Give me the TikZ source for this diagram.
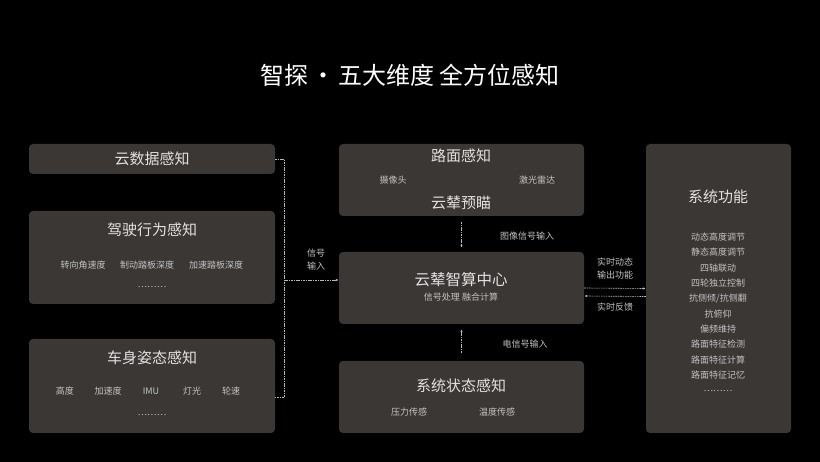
\documentclass[tikz,border=0pt]{standalone}
\usepackage{fontspec}
\setmainfont{Noto Sans CJK SC}
\usepackage{tikz}
\usetikzlibrary{arrows,arrows.meta,positioning,calc}
\definecolor{panel}{HTML}{3A3734}
\definecolor{ink}{HTML}{E2E2E2}
\definecolor{soft}{HTML}{C4C4C4}
\definecolor{wire}{HTML}{B8B8B8}

\begin{document}
\begin{tikzpicture}[x=1pt,y=-1pt,inner sep=0pt]
\tikzstyle{panelbox} = [fill=panel,rounded corners=4pt,draw=none]
\tikzstyle{head} = [text=ink,font=\fontsize{15}{17}\selectfont]
\tikzstyle{item} = [text=soft,font=\fontsize{9}{11}\selectfont]
\tikzstyle{note} = [text=soft,font=\fontsize{9}{13}\selectfont,align=center]
\tikzstyle{sig} = [draw=wire,line width=0.6pt,dash pattern=on 1.6pt off 0.8pt,>={Latex[length=3pt,width=2.4pt]}]

\fill[black] (0,0) rectangle (820,462);

\node[text=white,font=\fontsize{24}{27}\selectfont] (title) at (410,75) {智探\hspace{3pt}·\hspace{3pt}五大维度 全方位感知};

% left column
\node[panelbox,minimum width=246pt,minimum height=30pt] (cloud) at (152,159) {};
\node[panelbox,minimum width=246pt,minimum height=93pt] (drive) at (152,257.5) {};
\node[panelbox,minimum width=246pt,minimum height=94pt] (body) at (152,386) {};

\node[head] (cloudT) at (cloud) {云数据感知};
\node[head] (driveT) at (152,230) {驾驶行为感知};
\node[item] (d1) at (83,265) {转向角速度};
\node[item] (d2) at (147,265) {制动踏板深度};
\node[item] (d3) at (216,265) {加速踏板深度};
\node[item] (d4) at (152,287) {………};
\node[head] (bodyT) at (152,358) {车身姿态感知};
\node[item] (b1) at (65,391) {高度};
\node[item] (b2) at (108,391) {加速度};
\node[item] (b3) at (151,391) {IMU};
\node[item] (b4) at (192,391) {灯光};
\node[item] (b5) at (231,391) {轮速};
\node[item] (b6) at (152,415) {………};

% middle column
\node[panelbox,minimum width=245pt,minimum height=72pt] (road) at (461.5,180) {};
\node[panelbox,minimum width=245pt,minimum height=72pt] (hub) at (461.5,288) {};
\node[panelbox,minimum width=245pt,minimum height=72pt] (state) at (461.5,397) {};

\node[head] (roadT) at (461,156) {路面感知};
\node[item] (r1) at (393,180) {摄像头};
\node[item] (r2) at (537,180) {激光雷达};
\node[head] (r3) at (461,203) {云辇预瞄};
\node[head,font=\fontsize{15.5}{17}\selectfont] (hubT) at (461,280) {云辇智算中心};
\node[item] (hubS) at (461,297) {信号处理 融合计算};
\node[head] (stateT) at (461,386) {系统状态感知};
\node[item] (s1) at (409,412) {压力传感};
\node[item] (s2) at (497,412) {温度传感};

% right column
\node[panelbox,minimum width=145pt,minimum height=289pt] (func) at (718.5,288.5) {};
\node[head] (funcT) at (718,197) {系统功能};
\foreach \t [count=\i] in {动态高度调节,静态高度调节,四轴联动,四轮独立控制,抗侧倾/抗侧翻,抗俯仰,偏频维持,路面特征检测,路面特征计算,路面特征记忆}
  \node[item] (f\i) at (718,{237+15.35*(\i-1)}) {\t};
\node[item] (fdots) at (718,391) {………};

% connectors
\coordinate (bktop) at (284,159);
\coordinate (bkbot) at (284,397);
\draw[sig] (cloud.east) -- (bktop) -- (bkbot) -- (body.east |- bkbot);
\draw[sig,->] (bktop |- 0,280) -- (hub.west |- 0,280);
\node[note] (lin) at (316,260) {信号\\输入};

\draw[sig,->,shorten <=6pt,shorten >=4pt] (road.south) -- (hub.north);
\node[item] (limg) at (527,236) {图像信号输入};
\draw[sig,->,shorten <=8pt,shorten >=5pt] (state.north) -- (hub.south);
\node[item] (lel) at (525,344) {电信号输入};

\draw[sig,->] (hub.east) -- (func.west);
\draw[sig,->] ([yshift=-8pt]func.west) -- ([yshift=-8pt]hub.east);
\node[note] (lout) at (615,269) {实时动态\\输出功能};
\node[item] (lfb) at (615,307) {实时反馈};
\end{tikzpicture}
\end{document}
